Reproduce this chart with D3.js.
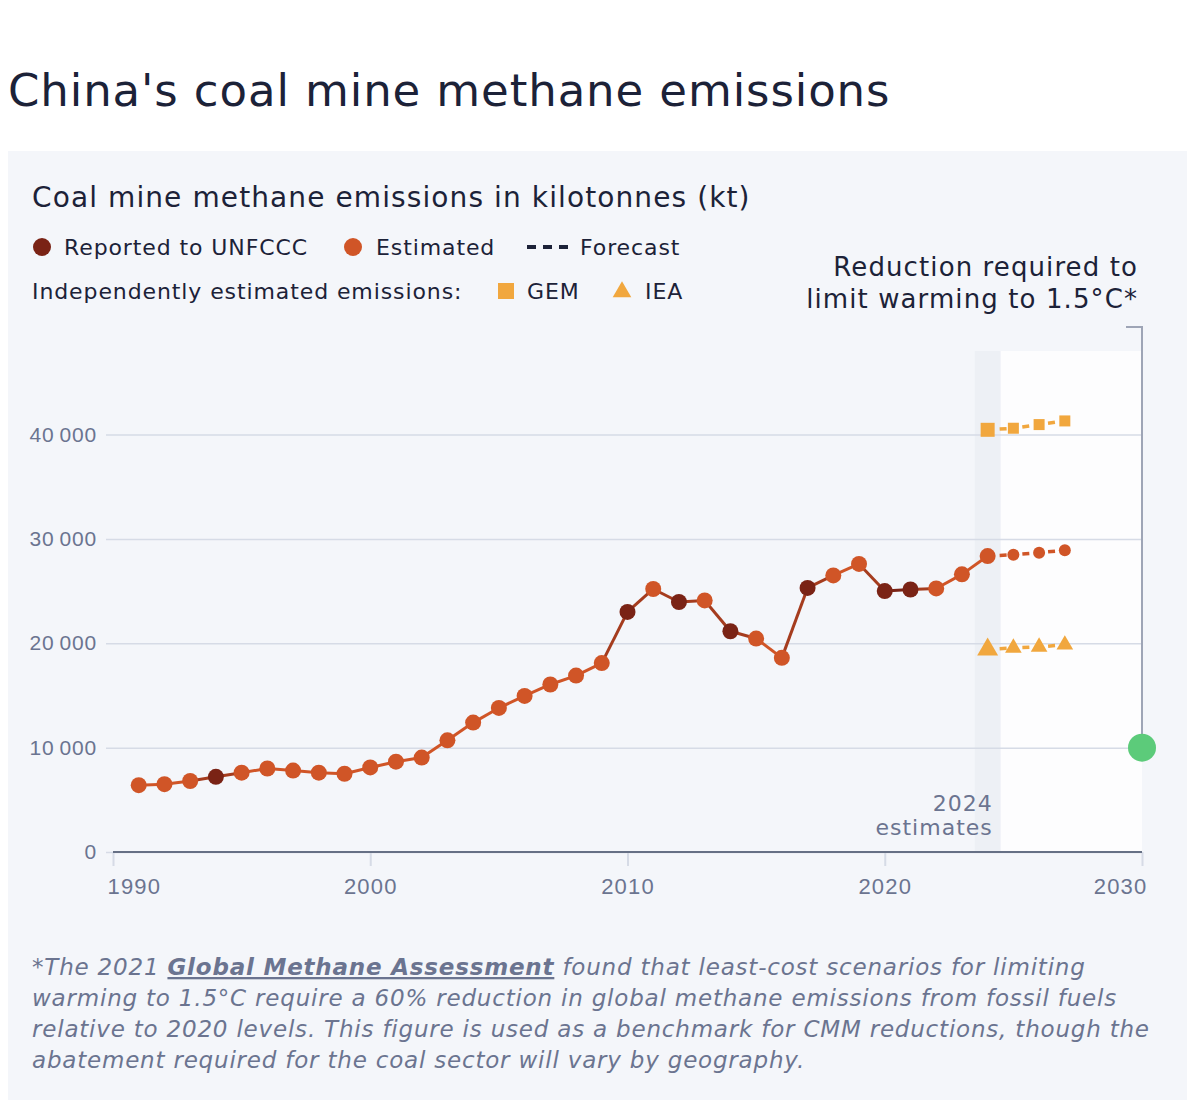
<!DOCTYPE html>
<html>
<head>
<meta charset="utf-8">
<script src="https://cdn.jsdelivr.net/npm/d3@7"></script>
<style>
  body { margin: 0; background: #fff; }
  svg { display: block; font-family: "DejaVu Sans", "Noto Sans", sans-serif; }
</style>
</head>
<body>
<svg id="chart" width="1196" height="1110"></svg>
<script>
// emissions in kt, actual series
const years = [1991, 1992, 1993, 1994, 1995, 1996, 1997, 1998, 1999, 2000,
  2001, 2002, 2003, 2004, 2005, 2006, 2007, 2008, 2009, 2010,
  2011, 2012, 2013, 2014, 2015, 2016, 2017, 2018, 2019, 2020,
  2021, 2022, 2023, 2024];
const emissions = [6400, 6500, 6800, 7200, 7600, 8000, 7800, 7600, 7500, 8100,
  8650, 9050, 10700, 12400, 13800, 14950, 16050, 16900, 18100, 23000,
  25200, 23950, 24100, 21150, 20450, 18600, 25300, 26500, 27600, 25000,
  25150, 25250, 26600, 28350];
const reportedYears = [1994, 2010, 2012, 2014, 2017, 2020, 2021];

// forecasts (first value is the 2024 estimate)
const forecastYears = [2024, 2025, 2026, 2027];
const forecastEstimated = [28350, 28480, 28680, 28900];
const forecastGEM = [40450, 40600, 40950, 41300];
const forecastIEA = [19400, 19550, 19650, 19850];

const target = { year: 2030, value: 10000 };
const xTicks = [1990, 2000, 2010, 2020, 2030];
const yTicks = [0, 10000, 20000, 30000, 40000];

const colors = {
  reported: "#7a2315",
  estimated: "#d05527",
  independent: "#f1a73e",
  target: "#5ccb7a",
  text: "#1c2238",
  muted: "#6b7490",
  grid: "#d6dbe6",
};

const svg = d3.select("#chart");
const margin = { left: 113, right: 1142, top: 351, bottom: 852 };

const x = d3.scaleLinear().domain([1990, 2030]).range([margin.left, margin.right]);
const y = d3.scaleLinear().domain([0, 48000]).range([margin.bottom, margin.top]);

const fmt = d3.formatLocale({ decimal: ".", thousands: "\u2009", grouping: [3], currency: ["", ""] }).format(",");

// title
svg.append("text")
  .attr("x", 8).attr("y", 106)
  .style("font-size", "45px").style("letter-spacing", "0.9px")
  .style("fill", colors.text)
  .text("China's coal mine methane emissions");

// panel
svg.append("rect")
  .attr("x", 8).attr("y", 151).attr("width", 1179).attr("height", 949)
  .attr("fill", "#f4f6fa");

svg.append("text")
  .attr("x", 32).attr("y", 207)
  .style("font-size", "28px").style("letter-spacing", "1.1px")
  .style("fill", colors.text)
  .text("Coal mine methane emissions in kilotonnes (kt)");

// legend
const legend = svg.append("g")
  .style("font-size", "22px").style("letter-spacing", "0.9px")
  .style("fill", colors.text);
legend.append("circle").attr("cx", 42).attr("cy", 247).attr("r", 9).attr("fill", colors.reported);
legend.append("text").attr("x", 64).attr("y", 255).text("Reported to UNFCCC");
legend.append("circle").attr("cx", 353).attr("cy", 247).attr("r", 9).attr("fill", colors.estimated);
legend.append("text").attr("x", 376).attr("y", 255).text("Estimated");
legend.append("line")
  .attr("x1", 527).attr("x2", 569).attr("y1", 247).attr("y2", 247)
  .attr("stroke", colors.text).attr("stroke-width", 4).attr("stroke-dasharray", "9 7");
legend.append("text").attr("x", 580).attr("y", 255).text("Forecast");
legend.append("text").attr("x", 32).attr("y", 299).text("Independently estimated emissions:");
legend.append("rect").attr("x", 498).attr("y", 283).attr("width", 16).attr("height", 16).attr("fill", colors.independent);
legend.append("text").attr("x", 527).attr("y", 299).text("GEM");
legend.append("path").attr("d", d3.symbol(d3.symbolTriangle, 150)()).attr("transform", "translate(622,292)").attr("fill", colors.independent);
legend.append("text").attr("x", 645).attr("y", 299).text("IEA");

// target annotation
const note = svg.append("text")
  .attr("text-anchor", "end")
  .style("font-size", "26px").style("letter-spacing", "1.1px")
  .style("fill", colors.text);
note.append("tspan").attr("x", 1138).attr("y", 276).text("Reduction required to");
note.append("tspan").attr("x", 1138).attr("y", 308).text("limit warming to 1.5°C*");

// forecast area and 2024 band
svg.append("rect")
  .attr("x", x(2024.5)).attr("y", y(48000))
  .attr("width", x(2030) - x(2024.5)).attr("height", y(0) - y(48000))
  .attr("fill", "#fdfdfe");
svg.append("rect")
  .attr("x", x(2023.5)).attr("y", y(48000))
  .attr("width", x(2024.5) - x(2023.5)).attr("height", y(0) - y(48000))
  .attr("fill", "#edf0f5");

// y axis with gridlines
const yAxis = svg.append("g")
  .attr("transform", `translate(${margin.left - 7},0)`)
  .call(d3.axisLeft(y).tickValues(yTicks).tickFormat(fmt)
    .tickSize(-(margin.right - margin.left + 7)).tickPadding(9));
yAxis.select(".domain").remove();
yAxis.selectAll(".tick line").attr("stroke", colors.grid).attr("stroke-width", 1.5);
yAxis.selectAll(".tick text")
  .style("font-size", "21px").style("font-family", "inherit").style("letter-spacing", "0.8px")
  .attr("fill", colors.muted);

// x axis, edge labels kept inside the plot
const xAxis = svg.append("g")
  .attr("transform", `translate(0,${margin.bottom})`)
  .call(d3.axisBottom(x).tickValues(xTicks).tickFormat(d3.format("d")).tickSize(14).tickPadding(12));
xAxis.select(".domain").remove();
xAxis.selectAll(".tick line").attr("stroke", colors.grid).attr("stroke-width", 2);
xAxis.selectAll(".tick text")
  .style("font-size", "22px").style("font-family", "inherit").style("letter-spacing", "1.2px")
  .attr("fill", colors.muted)
  .attr("text-anchor", (d, i) => (i === 0 ? "start" : i === xTicks.length - 1 ? "end" : "middle"))
  .attr("x", (d, i) => (i === 0 ? -6 : i === xTicks.length - 1 ? 5 : 0));
svg.append("line")
  .attr("x1", margin.left).attr("x2", margin.right)
  .attr("y1", margin.bottom).attr("y2", margin.bottom)
  .attr("stroke", "#667085").attr("stroke-width", 2);

// 2024 estimates label
const est = svg.append("text")
  .attr("text-anchor", "end")
  .style("font-size", "22px").style("letter-spacing", "1px")
  .style("fill", colors.muted);
est.append("tspan").attr("x", x(2024.2)).attr("y", 811).text("2024");
est.append("tspan").attr("x", x(2024.2)).attr("y", 835).text("estimates");

// bracket to the 1.5°C target
const bracketTop = y(48000) - 24;
svg.append("path")
  .attr("d", `M${x(2030) - 16},${bracketTop}H${x(2030)}V${y(target.value)}`)
  .attr("fill", "none").attr("stroke", "#9ea5b6").attr("stroke-width", 2);
svg.append("circle")
  .attr("cx", x(target.year)).attr("cy", y(target.value)).attr("r", 14)
  .attr("fill", colors.target);

// actual series
const points = years.map((yr, i) => ({
  year: yr,
  value: emissions[i],
  reported: reportedYears.includes(yr),
}));
const pointColor = (d) => (d.reported ? colors.reported : colors.estimated);

svg.append("g")
  .selectAll("line")
  .data(d3.pairs(points))
  .join("line")
  .attr("x1", (d) => x(d[0].year)).attr("y1", (d) => y(d[0].value))
  .attr("x2", (d) => x(d[1].year)).attr("y2", (d) => y(d[1].value))
  .attr("stroke", (d) => d3.interpolateRgb(pointColor(d[0]), pointColor(d[1]))(0.5))
  .attr("stroke-width", 3);

// dashed forecast links, one dash between each pair of markers
function dashedLinks(vals, color) {
  const pts = forecastYears.map((yr, i) => [x(yr), y(vals[i])]);
  svg.append("g")
    .selectAll("line")
    .data(d3.pairs(pts))
    .join("line")
    .attr("x1", (d) => d[0][0]).attr("y1", (d) => d[0][1])
    .attr("x2", (d) => d[1][0]).attr("y2", (d) => d[1][1])
    .attr("stroke", color).attr("stroke-width", 3.5)
    .attr("stroke-dasharray", (d) => {
      const len = Math.hypot(d[1][0] - d[0][0], d[1][1] - d[0][1]);
      const first = d[0] === pts[0] ? 12 : 9;
      return `0 ${first} 7 ${len}`;
    });
}
dashedLinks(forecastEstimated, colors.estimated);
dashedLinks(forecastGEM, colors.independent);
dashedLinks(forecastIEA, colors.independent);

svg.append("g")
  .selectAll("circle")
  .data(points)
  .join("circle")
  .attr("cx", (d) => x(d.year)).attr("cy", (d) => y(d.value))
  .attr("r", 8)
  .attr("fill", pointColor);

// forecast markers (first one is the 2024 estimate, drawn larger)
svg.append("g")
  .selectAll("circle")
  .data(forecastYears.slice(1))
  .join("circle")
  .attr("cx", (d) => x(d))
  .attr("cy", (d, i) => y(forecastEstimated[i + 1]))
  .attr("r", 6)
  .attr("fill", colors.estimated);

svg.append("g")
  .selectAll("rect")
  .data(forecastYears)
  .join("rect")
  .each(function (d, i) {
    const s = i === 0 ? 14 : 11;
    d3.select(this)
      .attr("x", x(d) - s / 2).attr("y", y(forecastGEM[i]) - s / 2)
      .attr("width", s).attr("height", s);
  })
  .attr("fill", colors.independent);

svg.append("g")
  .selectAll("path")
  .data(forecastYears)
  .join("path")
  .attr("d", (d, i) => d3.symbol(d3.symbolTriangle, i === 0 ? 190 : 120)())
  .attr("transform", (d, i) => `translate(${x(d)},${y(forecastIEA[i])})`)
  .attr("fill", colors.independent);

// footnote
const foot = svg.append("text")
  .style("font-size", "23px").style("font-style", "italic").style("letter-spacing", "0.8px")
  .style("fill", colors.muted);
const l1 = foot.append("tspan").attr("x", 32).attr("y", 975);
l1.append("tspan").text("*The 2021 ");
l1.append("tspan")
  .style("font-weight", 700).style("text-decoration", "underline")
  .text("Global Methane Assessment");
l1.append("tspan").text(" found that least-cost scenarios for limiting");
foot.append("tspan").attr("x", 32).attr("y", 1006)
  .text("warming to 1.5°C require a 60% reduction in global methane emissions from fossil fuels");
foot.append("tspan").attr("x", 32).attr("y", 1037)
  .text("relative to 2020 levels. This figure is used as a benchmark for CMM reductions, though the");
foot.append("tspan").attr("x", 32).attr("y", 1068)
  .text("abatement required for the coal sector will vary by geography.");
</script>
</body>
</html>
